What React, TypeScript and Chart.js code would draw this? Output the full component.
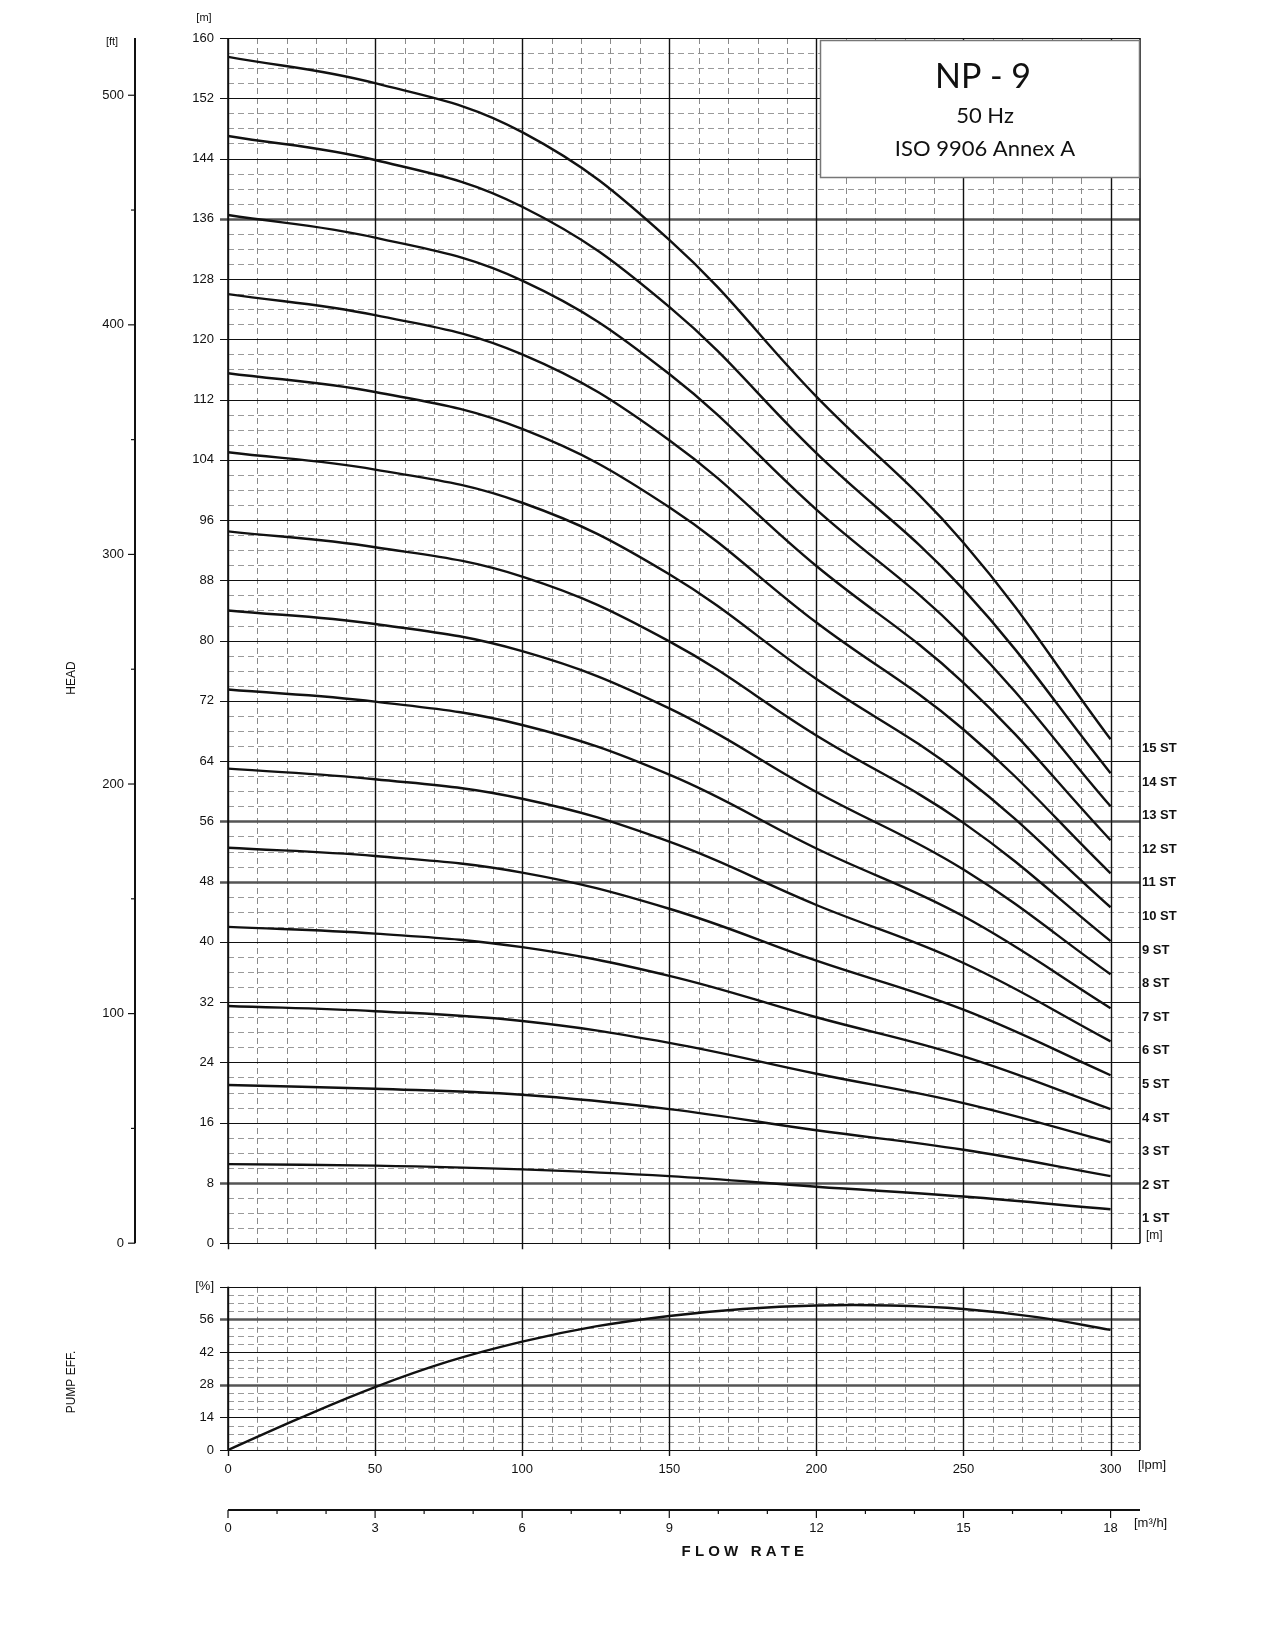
import React, { useEffect, useRef } from "react";
import { Chart, registerables } from "chart.js";
Chart.register(...registerables);

const flowLpm = [0, 50, 100, 150, 200, 250, 300];
const stageNames = ["1 ST","2 ST","3 ST","4 ST","5 ST","6 ST","7 ST","8 ST","9 ST","10 ST","11 ST","12 ST","13 ST","14 ST","15 ST"];
const headSt1 = [10.5, 10.3, 9.8, 8.9, 7.5, 6.2, 4.5];
const headSt2 = [21, 20.5, 19.7, 17.8, 15, 12.4, 8.9];
const headSt3 = [31.5, 30.8, 29.5, 26.6, 22.5, 18.6, 13.4];
const headSt4 = [42, 41.1, 39.3, 35.5, 30, 24.8, 17.8];
const headSt5 = [52.5, 51.4, 49.2, 44.4, 37.5, 31, 22.3];
const headSt6 = [63, 61.6, 59, 53.3, 44.9, 37.2, 26.8];
const headSt7 = [73.5, 71.9, 68.8, 62.2, 52.4, 43.4, 31.2];
const headSt8 = [84, 82.2, 78.6, 71, 59.9, 49.6, 35.7];
const headSt9 = [94.5, 92.4, 88.5, 79.9, 67.4, 55.8, 40.1];
const headSt10 = [105, 102.7, 98.3, 88.8, 74.9, 62, 44.6];
const headSt11 = [115.5, 113, 108.1, 97.7, 82.4, 68.2, 49.1];
const headSt12 = [126, 123.2, 118, 106.6, 89.9, 74.4, 53.5];
const headSt13 = [136.5, 133.5, 127.8, 115.4, 97.4, 80.6, 58];
const headSt14 = [147, 143.8, 137.6, 124.3, 104.9, 86.8, 62.4];
const headSt15 = [157.5, 154, 147.5, 133.2, 112.4, 93, 66.9];
const heads = [headSt1, headSt2, headSt3, headSt4, headSt5, headSt6, headSt7, headSt8, headSt9, headSt10, headSt11, headSt12, headSt13, headSt14, headSt15];

const effFlow = [0, 25, 50, 75, 100, 125, 150, 175, 200, 225, 250, 275, 300];
const effValues = [0, 14, 27, 38, 46.5, 53, 57.5, 60.5, 62, 62, 60.5, 57, 51.5];

const ftTicks = [0, 100, 200, 300, 400, 500];
const m3hTicks = [0, 3, 6, 9, 12, 15, 18];
const lpmTicks = [0, 50, 100, 150, 200, 250, 300];

const FONT = "Liberation Sans, Arial, sans-serif";

function drawGrid(chart: any, minorStep: number, majorStep: number, thick: number[]) {
  const { ctx, chartArea: a, scales } = chart;
  const x = scales.x, y = scales.y;
  ctx.save();
  ctx.lineWidth = 1;
  ctx.setLineDash([6, 4]);
  ctx.strokeStyle = "#9a9a9a";
  for (let v = minorStep; v < y.max - 1e-6; v += minorStep) {
    if (Math.abs(v / majorStep - Math.round(v / majorStep)) < 1e-6) continue;
    const py = Math.round(y.getPixelForValue(v)) + 0.5;
    ctx.beginPath(); ctx.moveTo(a.left, py); ctx.lineTo(a.right, py); ctx.stroke();
  }
  ctx.strokeStyle = "#8a8a8a";
  for (let v = 10; v < 310; v += 10) {
    if (v % 50 === 0) continue;
    const px = Math.round(x.getPixelForValue(v)) + 0.5;
    ctx.beginPath(); ctx.moveTo(px, a.top); ctx.lineTo(px, a.bottom); ctx.stroke();
  }
  ctx.setLineDash([]);
  for (let v = 0; v <= y.max + 1e-6; v += majorStep) {
    const py = Math.round(y.getPixelForValue(v)) + 0.5;
    const isThick = thick.some((t) => Math.abs(t - v) < 1e-6);
    ctx.strokeStyle = isThick ? "#555" : "#111";
    ctx.lineWidth = isThick ? 2.5 : 1.2;
    ctx.beginPath(); ctx.moveTo(a.left - 8, py); ctx.lineTo(a.right, py); ctx.stroke();
  }
  ctx.strokeStyle = "#111";
  ctx.lineWidth = 1.4;
  for (const v of lpmTicks) {
    const px = Math.round(x.getPixelForValue(v)) + 0.5;
    ctx.beginPath(); ctx.moveTo(px, a.top); ctx.lineTo(px, a.bottom + 6); ctx.stroke();
  }
  ctx.lineWidth = 1.6;
  ctx.beginPath(); ctx.moveTo(a.right, a.top); ctx.lineTo(a.right, a.bottom); ctx.stroke();
  ctx.beginPath(); ctx.moveTo(a.left, a.top); ctx.lineTo(a.left, a.bottom); ctx.stroke();
  ctx.restore();
}

function textAt(ctx: any, s: string, x: number, y: number, font: string, align = "left", color = "#111") {
  ctx.font = font; ctx.textAlign = align; ctx.textBaseline = "middle"; ctx.fillStyle = color;
  ctx.fillText(s, x, y);
}

const headPlugin = {
  id: "headDeco",
  beforeDatasetsDraw(chart: any) { drawGrid(chart, 2, 8, [8, 48, 56, 136]); },
  afterDraw(chart: any) {
    const { ctx, chartArea: a, scales } = chart;
    const y = scales.y;
    ctx.save();
    const fx = 135;
    ctx.strokeStyle = "#111"; ctx.lineWidth = 2;
    ctx.beginPath(); ctx.moveTo(fx, a.top); ctx.lineTo(fx, a.bottom); ctx.stroke();
    ctx.lineWidth = 1.2;
    for (let ft = 50; ft <= 500; ft += 100) {
      const py = y.getPixelForValue(ft * 0.3048);
      ctx.beginPath(); ctx.moveTo(fx - 4, py); ctx.lineTo(fx, py); ctx.stroke();
    }
    for (const ft of ftTicks) {
      const py = y.getPixelForValue(ft * 0.3048);
      ctx.beginPath(); ctx.moveTo(fx - 7, py); ctx.lineTo(fx, py); ctx.stroke();
      textAt(ctx, String(ft), fx - 11, py, "13px " + FONT, "right");
    }
    textAt(ctx, "[ft]", 112, 42, "11px " + FONT, "center");
    textAt(ctx, "[m]", 204, 18, "11px " + FONT, "center");
    ctx.save();
    ctx.translate(72, 678); ctx.rotate(-Math.PI / 2);
    textAt(ctx, "HEAD", 0, 0, "12px " + FONT, "center");
    ctx.restore();
    heads.forEach((h, i) => {
      const py = y.getPixelForValue(h[h.length - 1]) + 9;
      textAt(ctx, stageNames[i], a.right + 2, py, "bold 13px " + FONT, "left");
    });
    textAt(ctx, "[m]", a.right + 6, a.bottom - 8, "12px " + FONT, "left");
    ctx.fillStyle = "#fff";
    ctx.fillRect(820, 40, 320, 138);
    ctx.strokeStyle = "#777"; ctx.lineWidth = 1.5;
    ctx.strokeRect(820.5, 40.5, 319, 137);
    textAt(ctx, "NP - 9", 983, 77, "34px Lato, sans-serif", "center");
    textAt(ctx, "50 Hz", 985, 116, "22px Lato, sans-serif", "center");
    textAt(ctx, "ISO 9906 Annex A", 985, 149, "22px Lato, sans-serif", "center");
    ctx.restore();
  },
};

const effPlugin = {
  id: "effDeco",
  beforeDatasetsDraw(chart: any) { drawGrid(chart, 3.5, 14, [28, 56]); },
  afterDraw(chart: any) {
    const { ctx, chartArea: a, scales } = chart;
    const x = scales.x;
    ctx.save();
    textAt(ctx, "[lpm]", a.right - 2, a.bottom + 15, "13px " + FONT, "left");
    ctx.save();
    ctx.translate(72, a.bottom - 68); ctx.rotate(-Math.PI / 2);
    textAt(ctx, "PUMP EFF.", 0, 0, "12px " + FONT, "center");
    ctx.restore();
    const ay = a.bottom + 60;
    ctx.strokeStyle = "#111"; ctx.lineWidth = 2;
    ctx.beginPath(); ctx.moveTo(a.left, ay); ctx.lineTo(a.right, ay); ctx.stroke();
    ctx.lineWidth = 1.2;
    for (let m = 0; m <= 18; m += 1) {
      const px = x.getPixelForValue((m * 1000) / 60);
      const major = m % 3 === 0;
      ctx.beginPath(); ctx.moveTo(px, ay); ctx.lineTo(px, ay + (major ? 8 : 4)); ctx.stroke();
    }
    for (const m of m3hTicks) {
      const px = x.getPixelForValue((m * 1000) / 60);
      textAt(ctx, String(m), px, ay + 18, "13px " + FONT, "center");
    }
    textAt(ctx, "[m³/h]", a.right - 6, ay + 13, "13px " + FONT, "left");
    textAt(ctx, "F L O W   R A T E", x.getPixelForValue(175), ay + 42, "bold 15px " + FONT, "center");
    ctx.restore();
  },
};

export default function App() {
  const topRef = useRef<HTMLCanvasElement>(null);
  const botRef = useRef<HTMLCanvasElement>(null);
  useEffect(() => {
    const fixW = (w: number) => (s: any) => { s.width = w; };
    const fixH = (h: number) => (s: any) => { s.height = h; };
    const top = new Chart(topRef.current!, {
      type: "line",
      data: {
        datasets: heads.map((h, i) => ({
          label: stageNames[i],
          data: flowLpm.map((f, j) => ({ x: f, y: h[j] })),
          borderColor: "#111", borderWidth: 2.4, pointRadius: 0, tension: 0.4,
        })),
      },
      options: {
        responsive: false, animation: false, events: [],
        layout: { padding: { left: 188, right: 140, top: 38, bottom: 20 } },
        plugins: { legend: { display: false }, tooltip: { enabled: false } },
        scales: {
          x: { type: "linear", min: 0, max: 310, grid: { display: false }, border: { display: false }, ticks: { display: false }, afterFit: fixH(0) },
          y: { min: 0, max: 160, grid: { display: false, drawTicks: false }, border: { display: false },
            ticks: { stepSize: 8, padding: 14, color: "#111", font: { size: 13, family: FONT } }, afterFit: fixW(40) },
        },
      },
      plugins: [headPlugin],
    });
    const bot = new Chart(botRef.current!, {
      type: "line",
      data: {
        datasets: [{
          label: "eff",
          data: effFlow.map((f, j) => ({ x: f, y: effValues[j] })),
          borderColor: "#111", borderWidth: 2.4, pointRadius: 0, tension: 0.4,
        }],
      },
      options: {
        responsive: false, animation: false, events: [],
        layout: { padding: { left: 188, right: 140, top: 10, bottom: 147 } },
        plugins: { legend: { display: false }, tooltip: { enabled: false } },
        scales: {
          x: { type: "linear", min: 0, max: 310, grid: { display: false, drawTicks: false }, border: { display: false },
            afterBuildTicks: (s: any) => { s.ticks = lpmTicks.map((v) => ({ value: v })); },
            ticks: { padding: 12, color: "#111", font: { size: 13, family: FONT }, maxRotation: 0 }, afterFit: fixH(30) },
          y: { min: 0, max: 70, grid: { display: false, drawTicks: false }, border: { display: false },
            ticks: { stepSize: 14, padding: 14, color: "#111", font: { size: 13, family: FONT },
              callback: (v: any) => (v === 70 ? "[%]" : String(v)) }, afterFit: fixW(40) },
        },
      },
      plugins: [effPlugin],
    });
    return () => { top.destroy(); bot.destroy(); };
  }, []);
  return (
    <div style={{ position: "absolute", left: 0, top: 0, width: 1280, height: 1627, background: "#fff" }}>
      <canvas ref={topRef} width={1280} height={1265} style={{ position: "absolute", left: 0, top: 0 }} />
      <canvas ref={botRef} width={1280} height={362} style={{ position: "absolute", left: 0, top: 1265 }} />
    </div>
  );
}
